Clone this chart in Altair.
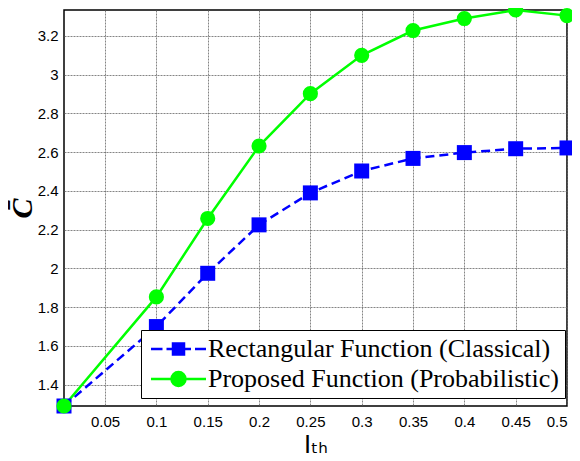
import altair as alt
import pandas as pd

x_vals = [0.01, 0.1, 0.15, 0.2, 0.25, 0.3, 0.35, 0.4, 0.45, 0.5]
rect_vals = [1.29, 1.70, 1.975, 2.225, 2.39, 2.503, 2.568, 2.598, 2.618, 2.622]
prop_vals = [1.29, 1.853, 2.258, 2.632, 2.902, 3.10, 3.228, 3.29, 3.334, 3.305]
series_names = ["Rectangular Function (Classical)", "Proposed Function (Probabilistic)"]
x_ticks = [0.05, 0.1, 0.15, 0.2, 0.25, 0.3, 0.35, 0.4, 0.45, 0.5]
y_ticks = [1.4, 1.6, 1.8, 2.0, 2.2, 2.4, 2.6, 2.8, 3.0, 3.2]

rows = []
for xv, a, b in zip(x_vals, rect_vals, prop_vals):
    rows.append({"x": xv, "y": a, "series": series_names[0]})
    rows.append({"x": xv, "y": b, "series": series_names[1]})
df = pd.DataFrame(rows)

colors = ["#0000FF", "#00FF00"]

xenc = alt.X("x:Q", scale=alt.Scale(domain=[0.01, 0.5], nice=False, zero=False),
             axis=alt.Axis(values=x_ticks, format=".2~f", title="Iₜₕ",
                           titleFont="DejaVu Sans", titleFontSize=24, titleFontWeight="normal",
                           titlePadding=4, labelPadding=8))
yenc = alt.Y("y:Q", scale=alt.Scale(domain=[1.29, 3.334], nice=False, zero=False),
             axis=alt.Axis(values=y_ticks, format=".1~f", title="C̄",
                           titleFont="Liberation Serif", titleFontStyle="italic",
                           titleFontSize=30, titleFontWeight="bold",
                           titlePadding=0, labelPadding=6))

base = alt.Chart(df)
rect_f = alt.datum.series == series_names[0]
prop_f = alt.datum.series == series_names[1]

line_rect = base.transform_filter(rect_f).mark_line(
    strokeWidth=2.5, color=colors[0], strokeDash=[9, 5]).encode(x=xenc, y=yenc)
line_prop = base.transform_filter(prop_f).mark_line(
    strokeWidth=2.5, color=colors[1]).encode(x="x:Q", y="y:Q")
squares = base.transform_filter(rect_f).mark_square(
    size=225, opacity=1, color=colors[0]).encode(x="x:Q", y="y:Q")
circles = base.transform_filter(prop_f).mark_circle(
    size=230, opacity=1, color=colors[1]).encode(x="x:Q", y="y:Q")

sq_path = "M-1.8,0H0.5M1.3,0H2.6M2.6,-1.1H4.8V1.1H2.6ZM4.8,0H6.2M7,0H9.2"
ci_path = "M-1.8,0H2.3M5.1,0H9.2M2.3,0A1.4,1.4 0 1,0 5.1,0A1.4,1.4 0 1,0 2.3,0Z"

leg = alt.Legend(orient="none", legendX=77, legendY=320, title=None,
                 strokeColor="black", fillColor="white", padding=6,
                 labelFont="Liberation Serif", labelFontSize=26, labelColor="black",
                 labelLimit=600,
                 symbolSize=100, symbolStrokeWidth=2.5, symbolOpacity=1,
                 labelOffset=35, rowPadding=4)

legend_layer = base.transform_filter("false").mark_point(filled=True).encode(
    x="x:Q", y="y:Q",
    fill=alt.Fill("series:N", scale=alt.Scale(domain=series_names, range=colors), legend=leg),
    stroke=alt.Stroke("series:N", scale=alt.Scale(domain=series_names, range=colors), legend=leg),
    shape=alt.Shape("series:N", scale=alt.Scale(domain=series_names, range=[sq_path, ci_path]), legend=leg),
)

chart = alt.layer(line_rect, line_prop, squares, circles, legend_layer).properties(
    width=503, height=396,
    autosize=alt.AutoSizeParams(type="none"),
    padding={"left": 56, "top": 2, "right": 5, "bottom": 53},
).configure_view(stroke="black", strokeWidth=1.5).configure_axis(
    labelFont="Liberation Sans", labelFontSize=15, labelColor="black",
    titleColor="black", ticks=False, domain=False,
    grid=True, gridColor="#666666", gridDash=[2, 1], gridWidth=0.8,
)

chart.save("out.html", embed_options={"renderer": "svg", "actions": False})
